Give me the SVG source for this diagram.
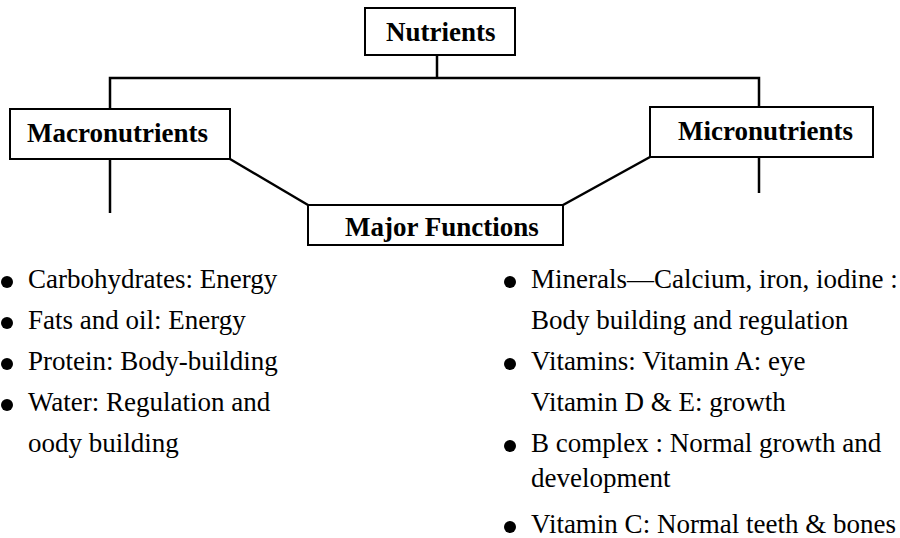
<svg xmlns="http://www.w3.org/2000/svg" width="900" height="538" viewBox="0 0 900 538">
<style>
.box{fill:#fff;stroke:#000;stroke-width:2}
.lbl{font-family:"Liberation Serif","Times New Roman",serif;font-weight:bold;font-size:27px;fill:#000}
.item{font-family:"Liberation Serif","Times New Roman",serif;font-size:27px;fill:#000}
.ln{stroke:#000;stroke-width:2.5;fill:none}
.dot{fill:#000}
</style>
<rect width="900" height="538" fill="#fff"/>
<g id="connectors">
<line class="ln" x1="437" y1="55" x2="437" y2="78"/>
<polyline class="ln" points="110,109 110,78 759,78 759,107"/>
<line class="ln" x1="110" y1="159" x2="110" y2="213"/>
<line class="ln" x1="759" y1="157" x2="759" y2="193"/>
<line class="ln" x1="230" y1="159" x2="308" y2="205"/>
<line class="ln" x1="650" y1="157" x2="563" y2="205"/>
</g>
<g id="nutrients">
<rect class="box" x="365" y="8" width="150" height="47"/>
<text class="lbl" x="386" y="41">Nutrients</text>
</g>
<g id="macronutrients">
<rect class="box" x="10" y="109" width="220" height="50"/>
<text class="lbl" x="27" y="142">Macronutrients</text>
</g>
<g id="micronutrients">
<rect class="box" x="650" y="107" width="223" height="50"/>
<text class="lbl" x="678" y="140">Micronutrients</text>
</g>
<g id="major-functions">
<rect class="box" x="308" y="205" width="255" height="40"/>
<text class="lbl" x="345" y="236">Major Functions</text>
</g>
<g id="macro-list">
<circle class="dot" cx="7" cy="282" r="6"/>
<text class="item" x="28" y="288">Carbohydrates: Energy</text>
<circle class="dot" cx="7" cy="323" r="6"/>
<text class="item" x="28" y="329">Fats and oil: Energy</text>
<circle class="dot" cx="7" cy="364" r="6"/>
<text class="item" x="28" y="370">Protein: Body-building</text>
<circle class="dot" cx="7" cy="405" r="6"/>
<text class="item" x="28" y="411">Water: Regulation and</text>
<text class="item" x="28" y="452">oody building</text>
</g>
<g id="micro-list">
<circle class="dot" cx="510" cy="282" r="6"/>
<text class="item" x="531" y="288">Minerals—Calcium, iron, iodine :</text>
<text class="item" x="531" y="329">Body building and regulation</text>
<circle class="dot" cx="510" cy="364" r="6"/>
<text class="item" x="531" y="370">Vitamins: Vitamin A: eye</text>
<text class="item" x="531" y="411">Vitamin D &amp; E: growth</text>
<circle class="dot" cx="510" cy="446" r="6"/>
<text class="item" x="531" y="452">B complex : Normal growth and</text>
<text class="item" x="531" y="487">development</text>
<circle class="dot" cx="510" cy="527" r="6"/>
<text class="item" x="531" y="533">Vitamin C: Normal teeth &amp; bones</text>
</g>
</svg>
